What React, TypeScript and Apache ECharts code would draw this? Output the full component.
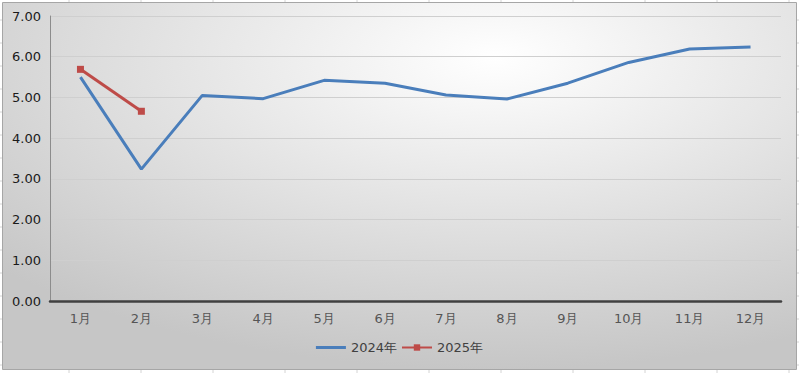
import React, { useEffect, useRef } from "react";
import * as echarts from "echarts";

const categories = ["1月", "2月", "3月", "4月", "5月", "6月", "7月", "8月", "9月", "10月", "11月", "12月"];
const series2024 = [5.5, 3.24, 5.05, 4.97, 5.42, 5.35, 5.06, 4.96, 5.35, 5.86, 6.19, 6.24];
const series2025 = [5.69, 4.66];
const seriesNames = ["2024年", "2025年"];

export default function App() {
  const ref = useRef<HTMLDivElement>(null);
  useEffect(() => {
    const chart = echarts.init(ref.current!, undefined, { renderer: "svg" });
    const sheetLines: any[] = [];
    for (let x = 69; x < 799; x += 72) {
      sheetLines.push({ type: "line", shape: { x1: x, y1: 0, x2: x, y2: 2 }, style: { stroke: "#d4d4d4", lineWidth: 1 } });
      sheetLines.push({ type: "line", shape: { x1: x, y1: 370, x2: x, y2: 373 }, style: { stroke: "#d4d4d4", lineWidth: 1 } });
    }
    for (let y = 20; y < 373; y += 23) {
      sheetLines.push({ type: "line", shape: { x1: 0, y1: y, x2: 2, y2: y }, style: { stroke: "#d4d4d4", lineWidth: 1 } });
      sheetLines.push({ type: "line", shape: { x1: 797, y1: y, x2: 799, y2: y }, style: { stroke: "#d4d4d4", lineWidth: 1 } });
    }
    chart.setOption({
      animation: false,
      backgroundColor: "#ffffff",
      graphic: [
        ...sheetLines,
        {
          type: "rect",
          z: -10,
          silent: true,
          shape: { x: 2.5, y: 2.5, width: 794, height: 367 },
          style: {
            fill: new echarts.graphic.RadialGradient(0.62, 0.15, 0.85, [
              { offset: 0, color: "#ffffff" },
              { offset: 1, color: "#c6c6c6" },
            ]),
            stroke: "#a6a6a6",
            lineWidth: 1,
          },
        },
      ],
      grid: { left: 50, right: 18, top: 16, bottom: 72, containLabel: false },
      legend: {
        data: [
          { name: seriesNames[0], icon: "path://M0,0 L30,0 L30,3 L0,3 Z" },
          { name: seriesNames[1] },
        ],
        bottom: 14,
        left: "center",
        itemWidth: 30,
        itemHeight: 8,
        itemGap: 4,
        textStyle: { fontFamily: "DejaVu Sans", fontSize: 13, color: "#404040" },
      },
      xAxis: {
        type: "category",
        data: categories,
        boundaryGap: true,
        axisLine: { lineStyle: { color: "#404040", width: 2.5 } },
        axisTick: { show: false },
        axisLabel: { fontFamily: "DejaVu Sans", fontSize: 13, color: "#555555", margin: 11 },
        splitLine: { show: false },
      },
      yAxis: {
        type: "value",
        min: 0,
        max: 7,
        interval: 1,
        axisLine: { show: true, lineStyle: { color: "#8c8c8c", width: 1 } },
        axisTick: { show: false },
        axisLabel: {
          fontFamily: "DejaVu Sans",
          fontSize: 13,
          color: "#1a1a1a",
          margin: 9,
          formatter: (v: number) => v.toFixed(2),
        },
        splitLine: { lineStyle: { color: "#cfcfcf", width: 1 } },
      },
      series: [
        {
          name: seriesNames[0],
          type: "line",
          data: series2024,
          symbol: "none",
          lineStyle: { color: "#4a7ebb", width: 3 },
          itemStyle: { color: "#4a7ebb" },
        },
        {
          name: seriesNames[1],
          type: "line",
          data: series2025,
          symbol: "rect",
          symbolSize: 7,
          lineStyle: { color: "#be4b48", width: 3 },
          itemStyle: { color: "#be4b48" },
        },
      ],
    });
    return () => chart.dispose();
  }, []);
  return <div ref={ref} style={{ position: "fixed", left: 0, top: 0, width: 799, height: 373 }} />;
}
